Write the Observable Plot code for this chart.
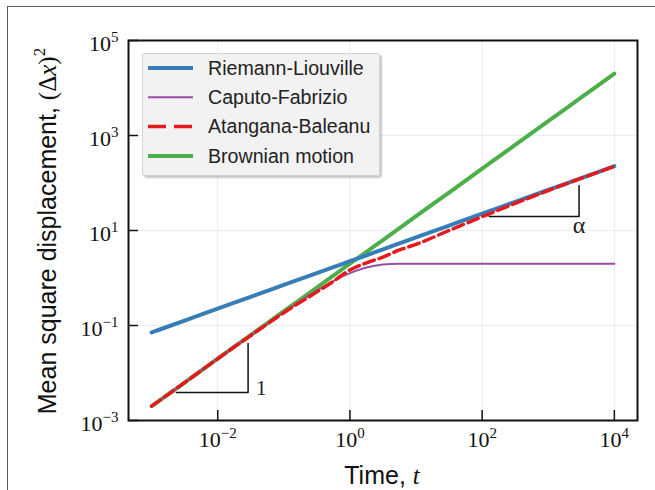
<!DOCTYPE html>
<html><head><meta charset="utf-8">
<script src="https://cdn.jsdelivr.net/npm/d3@7"></script>
<script src="https://cdn.jsdelivr.net/npm/@observablehq/plot@0.6"></script>
<style>
body{margin:0;background:#fff;}
#wrap{position:relative;width:655px;height:490px;overflow:hidden;background:#fff;}
#border{position:absolute;left:7px;top:6px;width:660px;height:500px;border-top:1.5px solid #5a5a5a;border-left:1.5px solid #5a5a5a;pointer-events:none;}
#legend{position:absolute;left:142px;top:53px;width:236px;height:121px;background:rgba(241,241,241,0.95);border:1px solid #d2d2d2;border-radius:3px;box-shadow:2px 2px 2px rgba(0,0,0,0.22);}
#legend svg{display:block;}
</style></head>
<body><div id="wrap"><div id="border"></div></div>
<script>
// time samples (t)
const time = [0.001, 0.00316, 0.01, 0.0316, 0.1, 0.316, 0.562, 1, 1.78, 3.16, 5.62, 10, 31.6, 100, 316, 1000, 3160, 10000];
// mean square displacement per model
const riemannLiouville = [0.0714, 0.127, 0.226, 0.401, 0.714, 1.27, 1.69, 2.26, 3.01, 4.01, 5.35, 7.14, 12.7, 22.6, 40.1, 71.4, 127, 226];
const caputoFabrizio   = [0.002, 0.0063, 0.0199, 0.0622, 0.19, 0.542, 0.86, 1.264, 1.663, 1.915, 1.993, 2.0, 2.0, 2.0, 2.0, 2.0, 2.0, 2.0];
const atanganaBaleanu  = [0.002, 0.0063, 0.02, 0.0617, 0.186, 0.51, 0.85, 1.48, 2.09, 2.75, 3.89, 5.13, 10.0, 19.5, 37.2, 69.2, 126, 224];
const brownian         = [0.002, 0.0063, 0.02, 0.063, 0.2, 0.63, 1.12, 2, 3.56, 6.3, 11.2, 20, 63, 200, 632, 2000, 6320, 20000];

const seriesNames  = ["Riemann-Liouville", "Caputo-Fabrizio", "Atangana-Baleanu", "Brownian motion"];
const seriesColors = ["#377eb8", "#984ea3", "#e41a1c", "#4daf4a"];

// slope guide triangles
const slopeOneT = [0.00237, 0.0288, 0.0288];
const slopeOneV = [0.00389, 0.00389, 0.0418];
const slopeAlphaT = [128, 2924, 2924];
const slopeAlphaV = [19.7, 19.7, 88.5];
const slopeLabels = ["1", "α"];
const slopeLabelT = [0.0457, 2924];
const slopeLabelV = [0.00468, 12.7];

// ticks
const xTicks = [0.01, 1, 100, 10000];
const yTicks = [0.001, 0.1, 10, 1000, 100000];
const xDomain = [0.000447, 22387];
const yDomain = [0.001, 100000];

const rows = (ys) => time.map((t, i) => ({t, v: ys[i]}));
const tri = (ts, vs) => ts.map((t, i) => ({t, v: vs[i]}));
const expLabel = d => { const k = Math.round(Math.log10(d)); return "10^" + (k < 0 ? "\u2212" + (-k) : String(k)); };

const serif = "'Liberation Serif','Times New Roman',Times,serif";
const sans = "'Liberation Sans',Arial,Helvetica,sans-serif";

const chart = Plot.plot({
  width: 655, height: 490,
  marginLeft: 128, marginRight: 18, marginTop: 40, marginBottom: 70,
  style: {background: "transparent", color: "#111"},
  x: {type: "log", domain: xDomain, label: null},
  y: {type: "log", domain: yDomain, label: null},
  marks: [
    Plot.gridX(xTicks, {stroke: "#ececec", strokeOpacity: 1, strokeWidth: 1}),
    Plot.gridY(yTicks, {stroke: "#ececec", strokeOpacity: 1, strokeWidth: 1}),
    Plot.line(rows(brownian), {x: "t", y: "v", stroke: seriesColors[3], strokeWidth: 4, curve: "monotone-x"}),
    Plot.line(rows(riemannLiouville), {x: "t", y: "v", stroke: seriesColors[0], strokeWidth: 4, curve: "monotone-x"}),
    Plot.line(rows(caputoFabrizio), {x: "t", y: "v", stroke: seriesColors[1], strokeWidth: 2, curve: "monotone-x"}),
    Plot.line(rows(atanganaBaleanu), {x: "t", y: "v", stroke: seriesColors[2], strokeWidth: 3.5, strokeDasharray: "11,5", curve: "monotone-x"}),
    Plot.line(tri(slopeOneT, slopeOneV), {x: "t", y: "v", stroke: "#111", strokeWidth: 1.5}),
    Plot.line(tri(slopeAlphaT, slopeAlphaV), {x: "t", y: "v", stroke: "#111", strokeWidth: 1.5}),
    Plot.text(slopeLabels, {x: (d, i) => slopeLabelT[i], y: (d, i) => slopeLabelV[i], text: d => d, fontFamily: serif, fontSize: (d, i) => i === 1 ? 24 : 21, fontStyle: (d, i) => i === 1 ? "italic" : "normal", fill: "#222"}),
    Plot.ruleX(xTicks, {insetTop: 370, stroke: "#111", strokeWidth: 1.5}),
    Plot.ruleY(yTicks, {insetRight: 499, stroke: "#111", strokeWidth: 1.5}),
    Plot.axisX(xTicks, {tickSize: 0, tickPadding: 11, tickFormat: expLabel, fontSize: 22, fontFamily: serif, label: null}),
    Plot.axisY(yTicks, {tickSize: 0, tickPadding: 10, tickFormat: expLabel, fontSize: 22, fontFamily: serif, label: null, dy: 3}),
    Plot.frame({stroke: "#111", strokeWidth: 2})
  ]
});

const svg = d3.select(chart.tagName.toLowerCase() === "svg" ? chart : chart.querySelector("svg"));
svg.selectAll('g[aria-label="x-axis tick label"] text, g[aria-label="y-axis tick label"] text').each(function() {
  const s = this.textContent;
  const [b, e] = s.split("^");
  const sel = d3.select(this);
  sel.text(null);
  sel.append("tspan").text(b);
  sel.append("tspan").attr("font-size", 15).attr("dy", -9).text(e);
});

// axis titles
const yl = svg.append("text").attr("transform", "translate(56,231) rotate(-90)")
  .attr("text-anchor", "middle").attr("font-size", 25).attr("fill", "#111").attr("font-family", sans);
yl.append("tspan").text("Mean square displacement, ");
yl.append("tspan").attr("font-family", serif).text("(\u0394");
yl.append("tspan").attr("font-family", serif).attr("font-style", "italic").text("x");
yl.append("tspan").attr("font-family", serif).text(")");
yl.append("tspan").attr("font-family", serif).attr("font-size", 17).attr("dy", -11).text("2");

const xl = svg.append("text").attr("x", 382).attr("y", 484)
  .attr("text-anchor", "middle").attr("font-size", 25).attr("fill", "#111").attr("font-family", sans);
xl.append("tspan").text("Time, ");
xl.append("tspan").attr("font-family", serif).attr("font-style", "italic").text("t");

chart.style.position = "absolute";
chart.style.left = "0px";
chart.style.top = "0px";
document.getElementById("wrap").appendChild(chart);

// legend overlay
const leg = document.createElement("div");
leg.id = "legend";
document.getElementById("wrap").appendChild(leg);
const ls = d3.select(leg).append("svg").attr("width", 236).attr("height", 121);
seriesNames.forEach((name, i) => {
  const cy = 14 + i * 29.3;
  ls.append("line").attr("x1", 5).attr("x2", 50).attr("y1", cy).attr("y2", cy)
    .attr("stroke", seriesColors[i]).attr("stroke-width", i === 1 ? 2 : (i === 2 ? 3.5 : 4))
    .attr("stroke-dasharray", i === 2 ? "18,8" : null);
  ls.append("text").attr("x", 65).attr("y", cy).attr("dy", "0.35em")
    .attr("font-family", sans).attr("font-size", 19.6).attr("fill", "#222").text(name);
});
</script>
</body></html>
